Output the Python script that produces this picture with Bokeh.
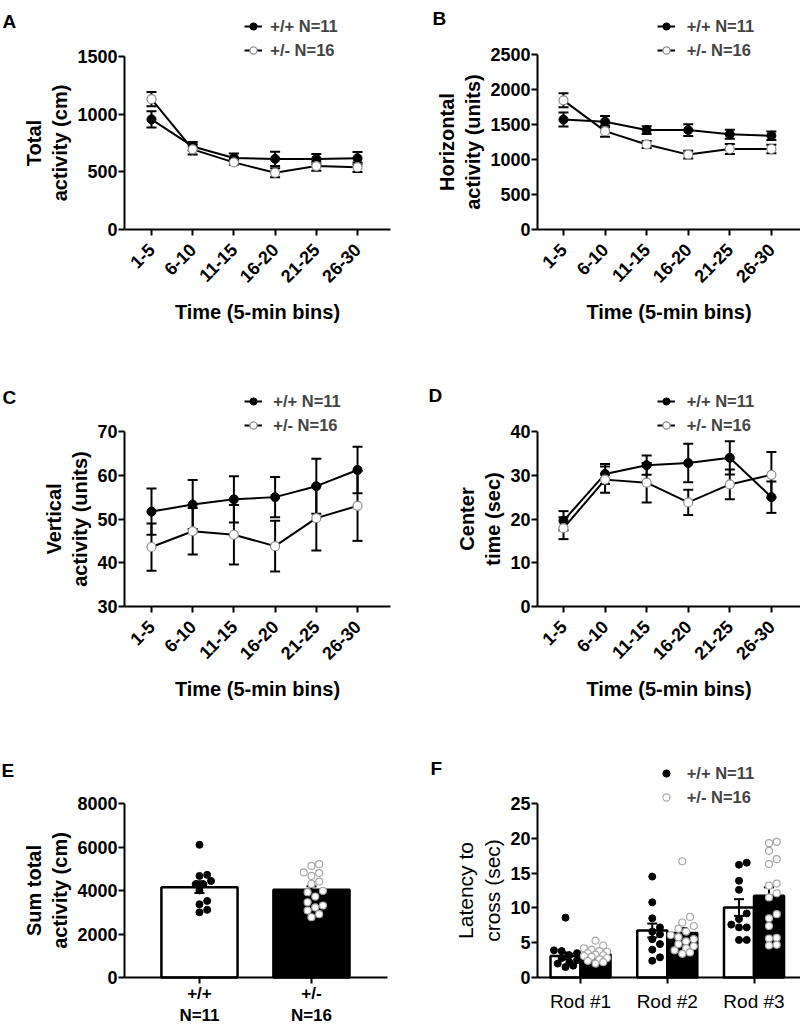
import math
from bokeh.plotting import figure
from bokeh.models import Range1d, FixedTicker, Legend, LegendItem, Label
from bokeh.layouts import column, row
from bokeh.embed import file_html
from bokeh.resources import INLINE

FONT = "Liberation Sans"

# ---------------- data ----------------
bins = ["1-5", "6-10", "11-15", "16-20", "21-25", "26-30"]
wt_label = "+/+ N=11"
het_label = "+/- N=16"

total_wt = [955, 720, 620, 612, 612, 618]
total_wt_sem = [70, 38, 40, 62, 42, 55]
total_het = [1130, 695, 582, 492, 550, 540]
total_het_sem = [62, 45, 20, 38, 40, 42]

horiz_wt = [1570, 1540, 1420, 1420, 1360, 1340]
horiz_wt_sem = [100, 80, 55, 85, 65, 60]
horiz_het = [1845, 1405, 1215, 1070, 1150, 1150]
horiz_het_sem = [100, 80, 50, 55, 70, 60]

vert_wt = [51.7, 53.3, 54.5, 55.0, 57.5, 61.2]
vert_wt_sem = [5.3, 5.6, 5.3, 4.6, 6.3, 5.3]
vert_het = [43.6, 47.2, 46.4, 43.8, 50.2, 53.0]
vert_het_sem = [5.4, 5.3, 6.8, 5.8, 7.4, 8.0]

center_wt = [19.6, 30.3, 32.3, 32.8, 34.0, 25.0]
center_wt_sem = [2.2, 2.3, 2.2, 4.4, 3.8, 3.6]
center_het = [17.9, 29.0, 28.3, 23.8, 27.9, 30.1]
center_het_sem = [2.5, 3.0, 4.5, 2.9, 3.4, 5.2]

sum_groups = ["+/+\nN=11", "+/-\nN=16"]
sum_mean = [4150, 4030]
sum_sem = [270, 160]
sum_wt_pts = [6100, 4720, 4670, 4440, 4290, 4290, 4000, 3520, 3370, 3110, 3000]
sum_het_pts = [5130, 5210, 4800, 4670, 4830, 4300, 4410, 3920, 3980, 3720,
               3460, 3310, 3080, 3220, 2770, 2910]

rods = ["Rod #1", "Rod #2", "Rod #3"]
rod_wt_mean = [3.1, 6.75, 10.05]
rod_wt_sem = [0.5, 1.0, 1.2]
rod_het_mean = [3.35, 6.4, 11.75]
rod_het_sem = [0.35, 0.7, 1.2]
rod_wt_pts = [
    [8.6, 3.9, 3.8, 3.5, 3.2, 2.8, 2.5, 2.2, 2.0, 1.7, 1.5],
    [14.5, 10.8, 8.5, 7.2, 6.6, 6.2, 5.5, 4.8, 4.0, 2.9, 2.4],
    [16.5, 16.2, 13.9, 12.6, 9.2, 8.4, 7.6, 7.2, 7.2, 5.4, 5.4],
]
rod_het_pts = [
    [5.3, 4.6, 4.2, 4.0, 3.8, 3.7, 3.5, 3.3, 3.2, 3.1, 3.0, 2.8, 2.6, 2.4, 2.2, 2.0],
    [16.7, 8.7, 7.9, 7.4, 7.0, 6.6, 6.1, 5.8, 5.5, 5.2, 4.8, 4.5, 4.2, 3.9, 3.6, 3.4],
    [19.5, 19.3, 18.2, 17.0, 16.3, 13.2, 13.5, 12.1, 11.5, 9.1, 8.5, 7.4, 5.6, 5.7, 4.6, 4.7],
]

GRAY = "#8c8c8c"
PGRAY = "#a8a8a8"


def make_fig(box, area, xr, yr, yticks):
    """box: figure extent in page px; area: where the axes' data window lies."""
    px0, py0, px1, py1 = box
    fl, ft, fr, fb = area
    sx = (fr - fl) / (xr[1] - xr[0])
    sy = (fb - ft) / (yr[1] - yr[0])
    X0 = xr[0] - (fl - px0) / sx
    X1 = xr[1] + (px1 - fr) / sx
    Y0 = yr[0] - (py1 - fb) / sy
    Y1 = yr[1] + (ft - py0) / sy
    p = figure(width=px1 - px0, height=py1 - py0,
               x_range=Range1d(X0, X1), y_range=Range1d(Y0, Y1),
               output_backend="svg", toolbar_location=None,
               min_border_left=0, min_border_right=0,
               min_border_top=0, min_border_bottom=0)
    p.title.visible = False
    p.xgrid.visible = False
    p.ygrid.visible = False
    p.outline_line_color = None
    p.background_fill_color = "white"
    p.border_fill_color = "white"
    for ax in p.axis:
        ax.axis_line_width = 2
        ax.axis_line_color = "black"
        ax.major_tick_line_width = 2
        ax.major_tick_line_color = "black"
        ax.major_tick_out = 6
        ax.major_tick_in = 0
        ax.minor_tick_line_color = None
        ax.major_label_text_font = FONT
        ax.major_label_text_font_style = "bold"
        ax.major_label_text_font_size = "18px"
        ax.major_label_text_color = "black"
        ax.major_label_standoff = 1
        ax.axis_label_text_font = FONT
        ax.axis_label_text_font_style = "bold"
        ax.axis_label_text_font_size = "20px"
        ax.axis_label_text_color = "black"
    p.xaxis.fixed_location = yr[0]
    p.xaxis.bounds = (xr[0], xr[1])
    p.yaxis.fixed_location = xr[0]
    p.yaxis.bounds = (yr[0], yr[1])
    p.yaxis.ticker = FixedTicker(ticks=yticks)
    p.yaxis.axis_label_standoff = 3
    p._geo = (box, area, xr, yr)
    return p


def to_data(p, px, py):
    box, (fl, ft, fr, fb), xr, yr = p._geo
    xd = xr[0] + (px - fl) / (fr - fl) * (xr[1] - xr[0])
    yd = yr[0] + (fb - py) / (fb - ft) * (yr[1] - yr[0])
    return xd, yd


def letter(p, txt, px, py):
    xd, yd = to_data(p, px, py)
    p.add_layout(Label(x=xd, y=yd, text=txt, text_font=FONT, text_font_style="bold",
                       text_font_size="19px", text_align="left",
                       text_baseline="alphabetic", text_color="black"))


def add_legend(p, items, glyph_cx, first_cy, standoff):
    box = p._geo[0]
    loc = (glyph_cx - 9 - box[0], box[3] - (first_cy + 34))
    leg = Legend(items=items, location=loc, orientation="vertical", padding=0, margin=0,
                 spacing=4, glyph_width=18, glyph_height=20, label_height=20,
                 label_standoff=standoff, border_line_color=None,
                 background_fill_alpha=0, label_text_font=FONT,
                 label_text_font_style="bold", label_text_font_size="16.5px")
    p.add_layout(leg)


def errbars(p, x, m, s):
    hi = [a + b for a, b in zip(m, s)]
    lo = [a - b for a, b in zip(m, s)]
    p.segment(x0=x, y0=lo, x1=x, y1=hi, line_color="black", line_width=2)
    p.scatter(x=x, y=hi, marker="dash", size=10, line_color="black", line_width=2)
    p.scatter(x=x, y=lo, marker="dash", size=10, line_color="black", line_width=2)


def line_panel(box, area, xr, yr, yticks, ylabel, wt, wts, het, hets,
               let, let_pos, leg_cx, leg_cy, leg_standoff):
    p = make_fig(box, area, xr, yr, yticks)
    x = list(range(len(bins)))
    p.xaxis.ticker = FixedTicker(ticks=x)
    p.xaxis.major_label_overrides = {i: b for i, b in enumerate(bins)}
    p.xaxis.major_label_orientation = math.pi / 4
    p.xaxis.major_label_text_font_size = "18px"
    p.xaxis.major_label_standoff = 11
    p.xaxis.axis_label = "Time (5-min bins)"
    p.xaxis.axis_label_standoff = 10
    p.yaxis.axis_label = ylabel
    l1 = p.line(x, wt, line_color="black", line_width=2)
    l2 = p.line(x, het, line_color="black", line_width=2)
    errbars(p, x, wt, wts)
    errbars(p, x, het, hets)
    m1 = p.scatter(x, wt, size=9, fill_color="black", line_color="black")
    m2 = p.scatter(x, het, size=9, fill_color="white", line_color=GRAY, line_width=1.2)
    add_legend(p, [LegendItem(label=wt_label, renderers=[l1, m1]),
                   LegendItem(label=het_label, renderers=[l2, m2])],
               leg_cx, leg_cy, leg_standoff)
    letter(p, let, *let_pos)
    return p


def swarm(vals, center, ppx, ppy, d, maxoff):
    order = sorted(range(len(vals)), key=lambda i: vals[i])
    placed = []
    xs = [0.0] * len(vals)
    step = d * 0.55
    nmax = int(maxoff // step)
    cands = [0.0]
    for k in range(1, nmax + 1):
        cands += [k * step, -k * step]
    for i in order:
        y = vals[i] * ppy
        chosen = None
        fb_c, fb_d = 0.0, -1.0
        for c in cands:
            md = min([math.hypot(c - a, y - b) for a, b in placed], default=1e9)
            if md >= d * 0.98:
                chosen = c
                break
            if md > fb_d:
                fb_d, fb_c = md, c
        if chosen is None:
            chosen = fb_c
        placed.append((chosen, y))
        xs[i] = center + chosen / ppx
    return xs


# ---------------- panels A-D ----------------
pA = line_panel((0, 0, 400, 338), (124, 56, 390, 229), (-0.655, 5.80), (0, 1500),
                [0, 500, 1000, 1500],
                "Total\nactivity (cm)", total_wt, total_wt_sem, total_het, total_het_sem,
                "A", (2, 21), 253.3, 26, 8)

pB = line_panel((400, 0, 800, 338), (537, 54, 800, 229), (-0.625, 5.70), (0, 2500),
                [0, 500, 1000, 1500, 2000, 2500],
                "Horizontal\nactivity (units)", horiz_wt, horiz_wt_sem, horiz_het, horiz_het_sem,
                "B", (432, 18), 665.7, 26, 12)

pC = line_panel((0, 338, 400, 735), (124, 431, 390, 606), (-0.655, 5.80), (30, 70),
                [30, 40, 50, 60, 70],
                "Vertical\nactivity (units)", vert_wt, vert_wt_sem, vert_het, vert_het_sem,
                "C", (2, 397), 253.3, 401, 11)

pD = line_panel((400, 338, 800, 735), (537, 431, 800, 606), (-0.625, 5.70), (0, 40),
                [0, 10, 20, 30, 40],
                "Center\ntime (sec)", center_wt, center_wt_sem, center_het, center_het_sem,
                "D", (428, 395), 665.7, 401, 12)

# ---------------- panel E ----------------
pE = make_fig((0, 735, 400, 1024), (124, 803, 387, 977), (-0.6696, 1.679), (0, 8000),
              [0, 2000, 4000, 6000, 8000])
pE.yaxis.axis_label = "Sum total\nactivity (cm)"
pE.xaxis.ticker = FixedTicker(ticks=[0, 1])
pE.xaxis.major_label_overrides = {0: sum_groups[0], 1: sum_groups[1]}
pE.xaxis.major_label_text_font_size = "17px"
pE.xaxis.major_label_standoff = 0
pE.vbar(x=[0], top=[sum_mean[0]], width=0.68, fill_color="white", line_color="black", line_width=2.5)
pE.vbar(x=[1], top=[sum_mean[1]], width=0.68, fill_color="black", line_color="black", line_width=2.5)
errbars(pE, [0, 1], sum_mean, sum_sem)
ppyE = 174 / 8000
ex_wt = swarm(sum_wt_pts, 0, 112, ppyE, 7, 30)
ex_het = swarm(sum_het_pts, 1, 112, ppyE, 7, 30)
pE.scatter(ex_wt, sum_wt_pts, size=7, fill_color="black", line_color="black")
pE.scatter(ex_het, sum_het_pts, size=7, fill_color="white", line_color=PGRAY, line_width=1.2)
letter(pE, "E", 1, 770)

# ---------------- panel F ----------------
pF = make_fig((400, 735, 800, 1024), (537, 803, 800, 977), (-0.496, 2.536), (0, 25),
              [0, 5, 10, 15, 20, 25])
pF.yaxis.axis_label = "Latency to\ncross (sec)"
pF.yaxis.axis_label_text_font_style = "normal"
pF.yaxis.axis_label_text_font_size = "21px"
pF.xaxis.ticker = FixedTicker(ticks=[0, 1, 2])
pF.xaxis.major_label_overrides = {i: r for i, r in enumerate(rods)}
pF.xaxis.major_label_text_font_style = "normal"
pF.xaxis.major_label_text_font_size = "19px"
pF.xaxis.major_label_standoff = 7
bw = 0.346
xw = [i - bw / 2 for i in range(3)]
xh = [i + bw / 2 for i in range(3)]
pF.vbar(x=xw, top=rod_wt_mean, width=bw, fill_color="white", line_color="black", line_width=2.5)
pF.vbar(x=xh, top=rod_het_mean, width=bw, fill_color="black", line_color="black", line_width=2.5)
errbars(pF, xw, rod_wt_mean, rod_wt_sem)
errbars(pF, xh, rod_het_mean, rod_het_sem)
ppyF = 174 / 25
fxw, fyw, fxh, fyh = [], [], [], []
for i in range(3):
    fxw += swarm(rod_wt_pts[i], xw[i], 86.65, ppyF, 7, 13)
    fyw += rod_wt_pts[i]
    fxh += swarm(rod_het_pts[i], xh[i], 86.65, ppyF, 7, 13)
    fyh += rod_het_pts[i]
rw = pF.scatter(fxw, fyw, size=7, fill_color="black", line_color="black")
rh = pF.scatter(fxh, fyh, size=7, fill_color="white", line_color=PGRAY, line_width=1.2)
add_legend(pF, [LegendItem(label=wt_label, renderers=[rw]),
                LegendItem(label=het_label, renderers=[rh])], 665.7, 773, 12)
letter(pF, "F", 430, 768)

layout = column(row(pA, pB), row(pC, pD), row(pE, pF))
open("out.html", "w").write(file_html(layout, INLINE))
